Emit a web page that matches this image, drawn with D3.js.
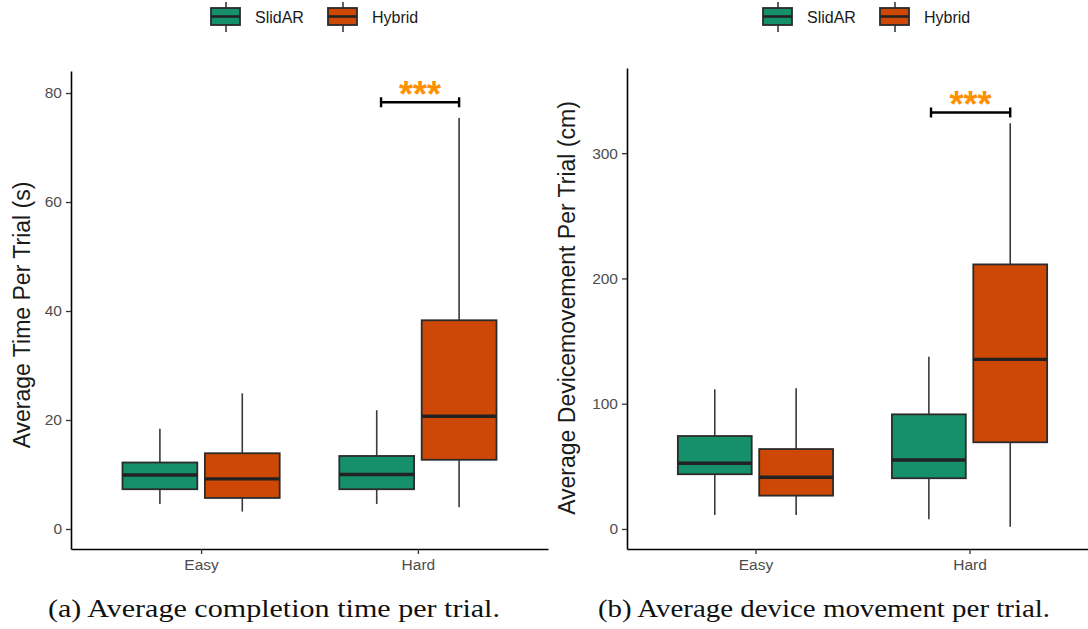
<!DOCTYPE html>
<html>
  <head>
    <title>SlidAR vs Hybrid</title>
    <script src="https://cdn.jsdelivr.net/npm/d3@7/dist/d3.min.js"></script>
    <style>
      body { margin: 0; background: #fff; }
      text { font-family: "Liberation Sans", Arial, sans-serif; }
      text.caption { font-family: "Liberation Serif", "Times New Roman", Times, serif; }
    </style>
  </head>

  <body>
    <svg width="1088" height="629"></svg>

    <script type="text/javascript">
      // categories
      var difficulties = ["Easy", "Hard"];
      var groups = ["SlidAR", "Hybrid"];

      // box stats per difficulty: [min, q1, median, q3, max]
      var timeSlidAR = [[4.6, 7.3, 9.9, 12.2, 18.4], [4.6, 7.3, 10.0, 13.4, 21.8]];
      var timeHybrid = [[3.2, 5.7, 9.2, 13.9, 24.9], [4.0, 12.7, 20.7, 38.3, 75.4]];
      var moveSlidAR = [[11.2, 43.7, 52.4, 74.2, 111.5], [7.7, 40.5, 55.1, 91.5, 137.5]];
      var moveHybrid = [[11.2, 26.6, 41.3, 63.8, 112.3], [1.8, 69.2, 135.4, 211.2, 323.8]];

      // tick labels
      var timeTicks = [0, 20, 40, 60, 80];
      var moveTicks = [0, 100, 200, 300];

      // significance brackets (x in category units, y in data units)
      var timeSig = [{ xmin: 1.83, xmax: 2.19, y: 78.3, label: "***" }];
      var moveSig = [{ xmin: 1.82, xmax: 2.19, y: 332.5, label: "***" }];

      var color = d3.scaleOrdinal().domain(groups).range(["#15906a", "#cc4804"]);
      var svg = d3.select("svg");

      function panel(opts) {
        var x = d3.scaleLinear().domain([0.4, 2.6]).range(opts.xr);
        var y = d3.scaleLinear().domain(opts.yd).range([549, opts.top]);
        var g = svg.append("g");

        // axes
        var ya = g.append("g")
          .attr("transform", "translate(" + opts.xr[0] + ",0)")
          .call(d3.axisLeft(y).tickValues(opts.ticks).tickSize(5).tickSizeOuter(0).tickPadding(4));
        var xa = g.append("g")
          .attr("transform", "translate(0,549)")
          .call(d3.axisBottom(x).tickValues([1, 2]).tickSize(5).tickSizeOuter(0).tickPadding(5)
            .tickFormat(function (d) { return difficulties[d - 1]; }));
        [ya, xa].forEach(function (a) {
          a.select(".domain").attr("stroke", "#000").attr("stroke-width", 1.6);
          a.selectAll(".tick line").attr("stroke", "#333").attr("stroke-width", 1.3);
          a.selectAll(".tick text").attr("fill", "#4d4d4d").style("font-size", "15.5px");
        });

        g.append("text")
          .attr("transform", "translate(" + opts.titleX + "," + opts.titleY + ") rotate(-90)")
          .attr("text-anchor", "middle")
          .attr("dy", "0.35em")
          .style("font-size", "23px")
          .attr("fill", "#1a1a1a")
          .text(opts.title);

        // boxes
        var rows = [];
        difficulties.forEach(function (d, i) {
          rows.push({ group: "SlidAR", pos: i + 1 - 0.19, s: opts.a[i] });
          rows.push({ group: "Hybrid", pos: i + 1 + 0.19, s: opts.b[i] });
        });
        var half = (x(1.1725) - x(1));
        var b = g.selectAll(".box").data(rows).enter().append("g");
        b.append("line")
          .attr("x1", function (d) { return x(d.pos); })
          .attr("x2", function (d) { return x(d.pos); })
          .attr("y1", function (d) { return y(d.s[0]); })
          .attr("y2", function (d) { return y(d.s[4]); })
          .attr("stroke", "#3a3a3a")
          .attr("stroke-width", 1.6);
        b.append("rect")
          .attr("x", function (d) { return x(d.pos) - half; })
          .attr("width", half * 2)
          .attr("y", function (d) { return y(d.s[3]); })
          .attr("height", function (d) { return y(d.s[1]) - y(d.s[3]); })
          .attr("fill", function (d) { return color(d.group); })
          .attr("stroke", "#2b2b2b")
          .attr("stroke-width", 1.8);
        b.append("line")
          .attr("x1", function (d) { return x(d.pos) - half; })
          .attr("x2", function (d) { return x(d.pos) + half; })
          .attr("y1", function (d) { return y(d.s[2]); })
          .attr("y2", function (d) { return y(d.s[2]); })
          .attr("stroke", "#222")
          .attr("stroke-width", 3.4);

        // significance
        opts.sig.forEach(function (s) {
          var sg = g.append("g").attr("stroke", "#000").attr("stroke-width", 2.4);
          sg.append("line").attr("x1", x(s.xmin)).attr("x2", x(s.xmax)).attr("y1", y(s.y)).attr("y2", y(s.y));
          sg.append("line").attr("x1", x(s.xmin)).attr("x2", x(s.xmin)).attr("y1", y(s.y) - 5).attr("y2", y(s.y) + 5);
          sg.append("line").attr("x1", x(s.xmax)).attr("x2", x(s.xmax)).attr("y1", y(s.y) - 5).attr("y2", y(s.y) + 5);
          g.append("text")
            .attr("x", x((s.xmin + s.xmax) / 2))
            .attr("y", y(s.y) + 5)
            .attr("text-anchor", "middle")
            .attr("fill", "#ff9100")
            .style("font-size", "36px")
            .style("font-weight", "bold")
            .text(s.label);
        });

        // legend
        var lg = g.append("g").attr("transform", "translate(" + opts.legendX + ",0)");
        var items = lg.selectAll(".key").data(groups).enter().append("g")
          .attr("transform", function (d, i) { return "translate(" + i * 117 + ",0)"; });
        items.append("line").attr("x1", 15).attr("x2", 15).attr("y1", 2).attr("y2", 32)
          .attr("stroke", "#3a3a3a").attr("stroke-width", 1.6);
        items.append("rect").attr("x", 0).attr("y", 8).attr("width", 29).attr("height", 17)
          .attr("fill", function (d) { return color(d); })
          .attr("stroke", "#2b2b2b").attr("stroke-width", 1.8);
        items.append("line").attr("x1", 0).attr("x2", 29).attr("y1", 16.5).attr("y2", 16.5)
          .attr("stroke", "#222").attr("stroke-width", 2.6);
        items.append("text").attr("x", 44).attr("y", 17).attr("dy", "0.35em")
          .style("font-size", "16px").attr("fill", "#1a1a1a")
          .text(function (d) { return d; });

        // caption
        svg.append("text")
          .attr("class", "caption")
          .attr("x", opts.capX)
          .attr("y", 617)
          .attr("text-anchor", "middle")
          .attr("textLength", 452)
          .attr("lengthAdjust", "spacingAndGlyphs")
          .style("font-size", "25px")
          .attr("fill", "#111")
          .text(opts.caption);
      }

      panel({
        xr: [71, 548], yd: [-3.67, 84.04], top: 71, ticks: timeTicks,
        a: timeSlidAR, b: timeHybrid, sig: timeSig,
        title: "Average Time Per Trial (s)", titleX: 22, titleY: 315, legendX: 211,
        capX: 274, caption: "(a) Average completion time per trial."
      });
      panel({
        xr: [627, 1098], yd: [-16, 368], top: 68, ticks: moveTicks,
        a: moveSlidAR, b: moveHybrid, sig: moveSig,
        title: "Average Devicemovement Per Trial (cm)", titleX: 567, titleY: 308, legendX: 763,
        capX: 824, caption: "(b) Average device movement per trial."
      });
    </script>
  </body>
</html>
